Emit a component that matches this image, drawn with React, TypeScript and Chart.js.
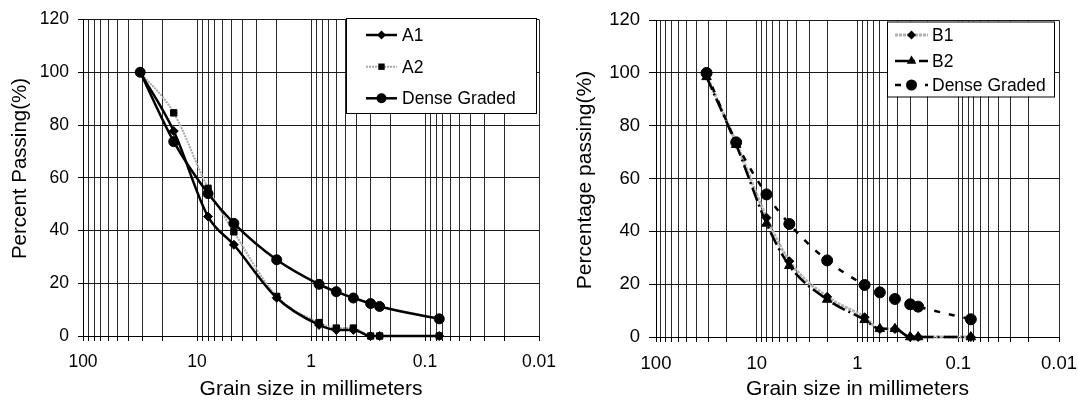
import React, { useEffect, useRef } from 'react';
import { Chart, registerables } from 'chart.js';

Chart.register(...registerables);

// ---------- data ----------
const sieveSizes = [31.5, 16, 8, 4.75, 2, 0.85, 0.6, 0.425, 0.3, 0.25, 0.075];
const a1Values = [100, 77.7, 45.3, 34.6, 14.5, 4.2, 2.3, 2.3, 0, 0, 0];
const a2Values = [100, 84.6, 56, 39.5, 15, 5.1, 3, 3, 0, 0, 0];
const denseLeftValues = [100, 73.7, 54, 42.7, 28.9, 19.6, 16.8, 14.4, 12.3, 11.2, 6.5];
const b1Values = [99, 73.5, 45.2, 28.7, 15.2, 7.5, 3, 3, 0, 0, 0];
const b2Values = [98.5, 72.8, 43, 27, 14.2, 6.5, 3.1, 3.1, 0, 0, 0];
const denseRightValues = [100, 73.7, 54, 42.8, 29, 19.7, 16.9, 14.4, 12.4, 11.5, 6.7];

const xDecades = [0.01, 0.1, 1, 10];
const xMultipliers = [1, 2, 3, 4, 5, 6, 7, 8, 9];
const xTopTick = 100;
const yTickValues = [0, 20, 40, 60, 80, 100, 120];

const leftYTitle = 'Percent Passing(%)';
const rightYTitle = 'Percentage passing(%)';
const xTitle = 'Grain size in millimeters';

const FONT = 'Arial, "Liberation Sans", sans-serif';

const xTickValues: number[] = [];
xDecades.forEach((d) => xMultipliers.forEach((m) => xTickValues.push(parseFloat((d * m).toPrecision(6)))));
xTickValues.push(xTopTick);

const pts = (vals: number[]) => sieveSizes.map((x, i) => ({ x, y: vals[i] }));

function fmt(v: number) {
  const l = Math.log10(v);
  if (Math.abs(l - Math.round(l)) > 1e-6) return '';
  return v >= 1 ? String(Math.round(v)) : String(parseFloat(v.toFixed(4)));
}

function drawMarker(ctx: CanvasRenderingContext2D, style: string, x: number, y: number, r: number) {
  ctx.beginPath();
  if (style === 'circle') ctx.arc(x, y, r, 0, Math.PI * 2);
  else if (style === 'rect') {
    const s = r * Math.SQRT1_2;
    ctx.rect(x - s, y - s, 2 * s, 2 * s);
  } else if (style === 'rectRot') {
    ctx.moveTo(x, y - r);
    ctx.lineTo(x + r, y);
    ctx.lineTo(x, y + r);
    ctx.lineTo(x - r, y);
    ctx.closePath();
  } else if (style === 'triangle') {
    let rad = 0;
    ctx.moveTo(x + Math.sin(rad) * r, y - Math.cos(rad) * r);
    rad += (2 * Math.PI) / 3;
    ctx.lineTo(x + Math.sin(rad) * r, y - Math.cos(rad) * r);
    rad += (2 * Math.PI) / 3;
    ctx.lineTo(x + Math.sin(rad) * r, y - Math.cos(rad) * r);
    ctx.closePath();
  }
  ctx.fillStyle = '#000';
  ctx.fill();
}

const legendPlugin = {
  id: 'customLegend',
  afterDraw(chart: any, _args: any, opts: any) {
    const ctx: CanvasRenderingContext2D = chart.ctx;
    const { box, rows, line, textX, fontSize, yTitle } = opts;
    ctx.save();
    // y-axis title
    ctx.save();
    ctx.translate(yTitle.x, yTitle.y);
    ctx.rotate(-Math.PI / 2);
    ctx.fillStyle = '#000';
    ctx.font = `${yTitle.size}px ${FONT}`;
    ctx.textAlign = 'center';
    ctx.textBaseline = 'middle';
    ctx.fillText(yTitle.text, 0, 0);
    ctx.restore();
    // legend
    ctx.fillStyle = '#fff';
    ctx.fillRect(box[0], box[1], box[2], box[3]);
    ctx.strokeStyle = '#000';
    ctx.lineWidth = 1;
    ctx.setLineDash([]);
    ctx.strokeRect(box[0] + 0.5, box[1] + 0.5, box[2], box[3]);
    chart.data.datasets.forEach((ds: any, i: number) => {
      const y = rows[i];
      ctx.save();
      ctx.strokeStyle = ds.borderColor;
      ctx.lineWidth = ds.borderWidth;
      ctx.setLineDash(ds.borderDash || []);
      ctx.beginPath();
      ctx.moveTo(line[0], y);
      ctx.lineTo(line[1], y);
      ctx.stroke();
      ctx.restore();
      drawMarker(ctx, ds.pointStyle, (line[0] + line[1]) / 2, y, ds.pointRadius);
      ctx.fillStyle = '#000';
      ctx.font = `${fontSize}px ${FONT}`;
      ctx.textBaseline = 'middle';
      ctx.textAlign = 'left';
      ctx.fillText(ds.label, textX, y + 1);
    });
    ctx.restore();
  },
};

function makeConfig(p: any): any {
  return {
    type: 'scatter',
    data: { datasets: p.datasets },
    plugins: [legendPlugin],
    options: {
      responsive: false,
      animation: false,
      layout: { padding: { left: 0, top: p.top, right: p.right, bottom: 0 } },
      plugins: {
        legend: { display: false },
        tooltip: { enabled: false },
        customLegend: p.legend,
      },
      elements: { line: { cubicInterpolationMode: 'monotone' } },
      scales: {
        x: {
          type: 'logarithmic',
          reverse: true,
          min: 0.01,
          max: 100,
          afterBuildTicks: (scale: any) => {
            scale.ticks = xTickValues.map((v) => ({ value: v }));
          },
          afterFit: (scale: any) => {
            scale.height = p.xHeight;
          },
          ticks: {
            autoSkip: false,
            maxRotation: 0,
            padding: 11,
            color: '#000',
            font: { family: FONT, size: p.tickSize },
            callback: (v: any) => fmt(Number(v)),
          },
          grid: { color: '#2a2a2a', lineWidth: 1, drawTicks: true, tickLength: 5, tickColor: '#000' },
          border: { color: '#000', width: 1 },
          title: {
            display: true,
            text: xTitle,
            color: '#000',
            font: { family: FONT, size: p.xTitleSize },
            padding: { top: 0, bottom: -1.5 },
          },
        },
        y: {
          type: 'linear',
          min: 0,
          max: 120,
          afterBuildTicks: (scale: any) => {
            scale.ticks = yTickValues.map((v) => ({ value: v }));
          },
          afterFit: (scale: any) => {
            scale.width = p.yWidth;
          },
          ticks: {
            padding: p.yTickPad,
            color: '#000',
            font: { family: FONT, size: p.tickSize },
          },
          grid: { color: '#1a1a1a', lineWidth: 1, drawTicks: true, tickLength: p.yTickLen, tickColor: '#000' },
          border: { color: '#000', width: 1 },
          title: { display: false },
        },
      },
    },
  };
}

const common = { showLine: true, backgroundColor: '#000', pointBorderColor: '#000', pointBackgroundColor: '#000', pointBorderWidth: 1, clip: false };

const leftConfig = () =>
  makeConfig({
    top: 17,
    right: 21,
    xHeight: 64,
    yWidth: 83,
    yTickPad: 9,
    yTickLen: 5,
    tickSize: 17.5,
    xTitleSize: 21,
    legend: {
      box: [346, 18, 190, 95],
      rows: [35, 66.7, 98.3],
      line: [366, 397],
      textX: 402,
      fontSize: 17.5,
      yTitle: { text: leftYTitle, x: 20, y: 168.5, size: 20.5 },
    },
    datasets: [
      { ...common, label: 'A1', data: pts(a1Values), borderColor: '#000', borderWidth: 2.5, pointStyle: 'rectRot', pointRadius: 4.5, order: 1 },
      { ...common, label: 'A2', data: pts(a2Values), borderColor: '#a8a8a8', borderWidth: 2, borderDash: [2, 1], pointStyle: 'rect', pointRadius: 4.5, order: 3 },
      { ...common, label: 'Dense Graded', data: pts(denseLeftValues), borderColor: '#000', borderWidth: 2.5, pointStyle: 'circle', pointRadius: 5, order: 2 },
    ],
  });

const rightConfig = () =>
  makeConfig({
    top: 17,
    right: 19,
    xHeight: 63,
    yWidth: 116,
    yTickPad: 9,
    yTickLen: 7,
    tickSize: 18.5,
    xTitleSize: 21,
    legend: {
      box: [347, 21.5, 167, 75],
      rows: [35, 61, 85],
      line: [355, 388],
      textX: 392,
      fontSize: 17.5,
      yTitle: { text: rightYTitle, x: 45.5, y: 180, size: 21 },
    },
    datasets: [
      { ...common, label: 'B1', data: pts(b1Values), borderColor: '#b0b0b0', borderWidth: 3, borderDash: [3, 1], pointStyle: 'rectRot', pointRadius: 4.5, order: 3 },
      { ...common, label: 'B2', data: pts(b2Values), borderColor: '#000', borderWidth: 2.5, borderDash: [14, 4, 2, 4], pointStyle: 'triangle', pointRadius: 5.5, order: 2 },
      { ...common, label: 'Dense Graded', data: pts(denseRightValues), borderColor: '#000', borderWidth: 2.5, borderDash: [6, 9], pointStyle: 'circle', pointRadius: 5.5, order: 1 },
    ],
  });

function ChartPanel({ left, width, build }: { left: number; width: number; build: () => any }) {
  const ref = useRef<HTMLCanvasElement | null>(null);
  useEffect(() => {
    if (!ref.current) return;
    const chart = new Chart(ref.current, build());
    return () => chart.destroy();
  }, [build]);
  return (
    <canvas
      ref={ref}
      width={width}
      height={400}
      style={{ position: 'absolute', left, top: 0, width, height: 400 }}
    />
  );
}

export default function App() {
  return (
    <div style={{ position: 'absolute', left: 0, top: 0, width: 1078, height: 400, background: '#fff', overflow: 'hidden' }}>
      <ChartPanel left={0} width={560} build={leftConfig} />
      <ChartPanel left={540} width={538} build={rightConfig} />
    </div>
  );
}
